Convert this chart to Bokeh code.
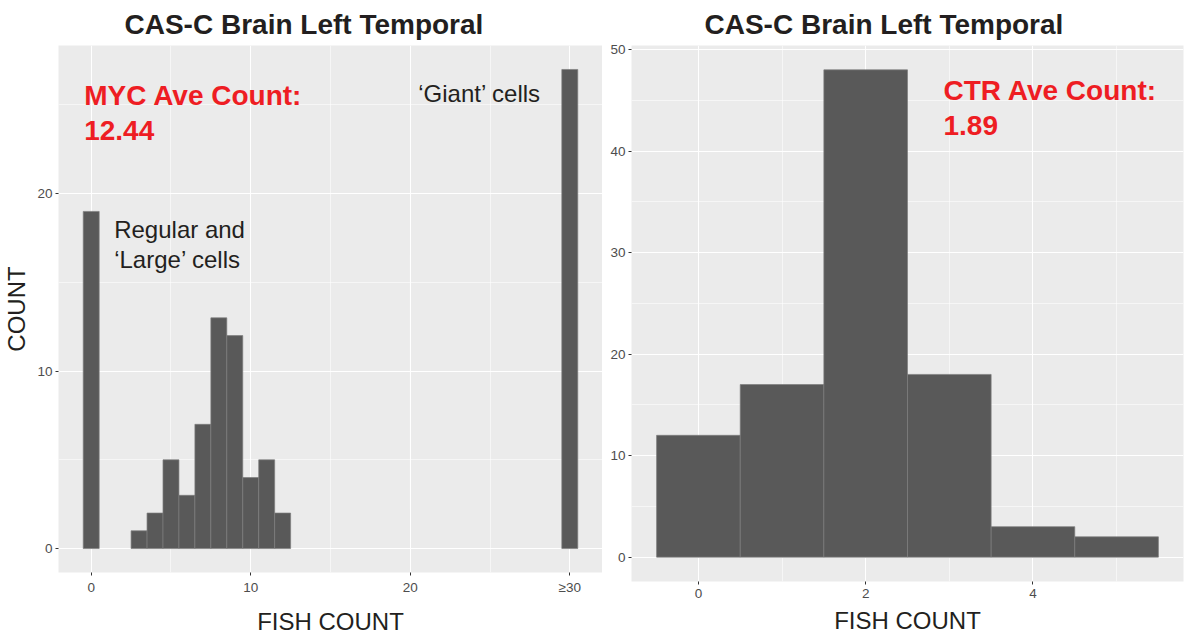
from bokeh.plotting import figure
from bokeh.layouts import row, column
from bokeh.models import FixedTicker, Title, ColumnDataSource
from bokeh.core.properties import value
from bokeh.embed import file_html
from bokeh.resources import INLINE

# ---------------- data ----------------
title_text = "CAS-C Brain Left Temporal"

myc_counts_x = [0, 3, 4, 5, 6, 7, 8, 9, 10, 11, 12, 30]
myc_counts_n = [19, 1, 2, 5, 3, 7, 13, 12, 4, 5, 2, 27]
myc_xticks = [0, 10, 20, 30]
myc_xtick_labels = ["0", "10", "20", "≥30"]
myc_yticks = [0, 10, 20]
myc_avg_label = ["MYC Ave Count:", "12.44"]

ctr_counts_x = [0, 1, 2, 3, 4, 5]
ctr_counts_n = [12, 17, 48, 18, 3, 2]
ctr_xticks = [0, 2, 4]
ctr_yticks = [0, 10, 20, 30, 40, 50]
ctr_avg_label = ["CTR Ave Count:", "1.89"]

giant_label = "‘Giant’ cells"
regular_label = ["Regular and", "‘Large’ cells"]

FONT = "Liberation Sans"
BAR_FILL = "#595959"
BAR_LINE = "#7d7d7d"
RED = "#EE1D23"
DARK = "#231F20"
TICK = "#4D4D4D"


def style(p, xt, xminor, yt, yminor, xlabels=None):
    p.background_fill_color = "#EBEBEB"
    p.border_fill_color = "white"
    p.outline_line_color = None
    p.xaxis.ticker = FixedTicker(ticks=xt, minor_ticks=xminor)
    p.yaxis.ticker = FixedTicker(ticks=yt, minor_ticks=yminor)
    p.xgrid.ticker = FixedTicker(ticks=xt, minor_ticks=xminor)
    p.ygrid.ticker = FixedTicker(ticks=yt, minor_ticks=yminor)
    if xlabels:
        p.xaxis.major_label_overrides = {t: l for t, l in zip(xt, xlabels)}
    for g in (p.xgrid, p.ygrid):
        g.grid_line_color = "white"
        g.grid_line_width = 1.1
        g.minor_grid_line_color = "white"
        g.minor_grid_line_width = 0.55
    for ax in (p.xaxis, p.yaxis):
        ax.axis_line_color = None
        ax.major_tick_line_color = "#333333"
        ax.major_tick_line_width = 1
        ax.major_tick_in = 0
        ax.major_tick_out = 3
        ax.minor_tick_line_color = None
        ax.major_label_text_font = FONT
        ax.major_label_text_font_size = "13.5px"
        ax.major_label_text_color = TICK
        ax.major_label_standoff = 3
        ax.axis_label_text_font = FONT
        ax.axis_label_text_font_size = "24px"
        ax.axis_label_text_font_style = "normal"
        ax.axis_label_text_color = DARK


def add_title(p, offset):
    p.add_layout(Title(text=title_text, align="left", offset=offset,
                       text_font=FONT, text_font_size="28px",
                       text_font_style="bold", text_color=DARK,
                       standoff=12), "above")


# ---------------- left panel ----------------
p1 = figure(width=602, height=639, output_backend="svg", toolbar_location=None,
            x_range=(-2.05, 32.05), y_range=(-1.35, 28.35),
            min_border_left=57, min_border_right=0, min_border_top=45,
            min_border_bottom=67)
add_title(p1, 66)
src1 = ColumnDataSource(dict(
    left=[x - 0.5 for x in myc_counts_x], right=[x + 0.5 for x in myc_counts_x],
    top=myc_counts_n, bottom=[0] * len(myc_counts_x)))
p1.quad(left="left", right="right", top="top", bottom="bottom", source=src1,
        fill_color=BAR_FILL, line_color=BAR_LINE, line_width=0.7)
style(p1, myc_xticks, [5, 15, 25], myc_yticks, [5, 15, 25], myc_xtick_labels)
p1.xaxis.axis_label = "FISH COUNT"
p1.yaxis.axis_label = "COUNT"
p1.xaxis.axis_label_standoff = 10
p1.yaxis.axis_label_standoff = 4
p1.yaxis.major_label_standoff = 2

p1.text(x=[-0.44, -0.44], y=[25.52, 23.55], text=myc_avg_label,
        text_font=value(FONT), text_font_size="28px", text_font_style="bold",
        text_color=RED, text_align="left", text_baseline="alphabetic")
p1.text(x=[20.5], y=[25.63], text=[giant_label],
        text_font=value(FONT), text_font_size="24px",
        text_color=DARK, text_align="left", text_baseline="alphabetic")
p1.text(x=[1.44, 1.44], y=[17.97, 16.28], text=regular_label,
        text_font=value(FONT), text_font_size="24px",
        text_color=DARK, text_align="left", text_baseline="alphabetic")

# ---------------- right panel ----------------
p2 = figure(width=582, height=639, output_backend="svg", toolbar_location=None,
            x_range=(-0.8, 5.8), y_range=(-2.4, 50.4),
            min_border_left=29, min_border_right=1, min_border_top=45,
            min_border_bottom=58)
add_title(p2, 73)
src2 = ColumnDataSource(dict(
    left=[x - 0.5 for x in ctr_counts_x], right=[x + 0.5 for x in ctr_counts_x],
    top=ctr_counts_n, bottom=[0] * len(ctr_counts_x)))
p2.quad(left="left", right="right", top="top", bottom="bottom", source=src2,
        fill_color=BAR_FILL, line_color=BAR_LINE, line_width=0.7)
style(p2, ctr_xticks, [1, 3, 5], ctr_yticks, [5, 15, 25, 35, 45])
p2.xaxis.axis_label = "FISH COUNT"
p2.xaxis.axis_label_standoff = 6
p2.yaxis.major_label_standoff = 2

p2.text(x=[2.93, 2.93], y=[45.97, 42.52], text=ctr_avg_label,
        text_font=value(FONT), text_font_size="28px", text_font_style="bold",
        text_color=RED, text_align="left", text_baseline="alphabetic")

layout = row(column(p1), column(p2))
open("out.html", "w").write(file_html(layout, INLINE))
